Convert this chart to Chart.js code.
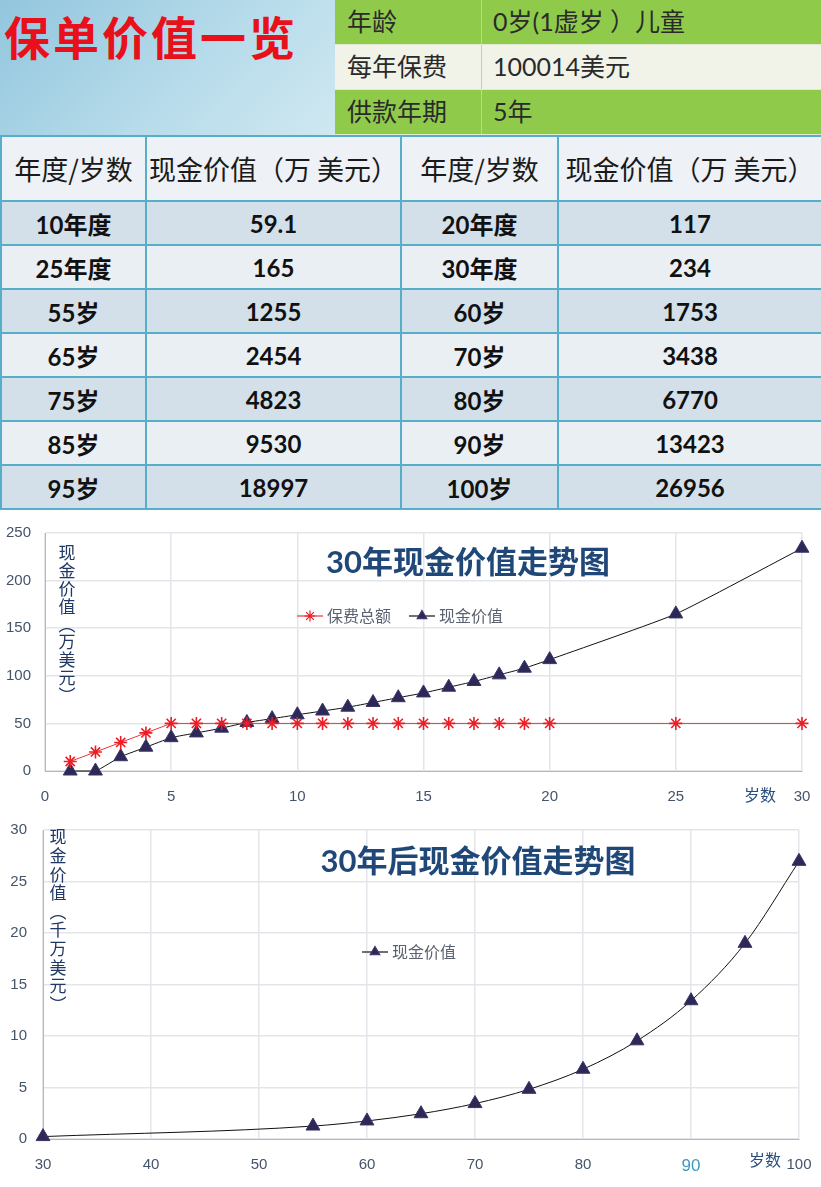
<!DOCTYPE html>
<html>
<head>
<meta charset="utf-8">
<script src="https://cdn.jsdelivr.net/npm/chart.js@4"></script>
<style>
  html, body { margin: 0; padding: 0; background: #fff; }
  body { width: 821px; height: 1187px; position: relative; overflow: hidden;
         font-family: Lato, "Noto Sans CJK SC", sans-serif; }
  #brand { position: absolute; left: 0; top: 0; width: 335px; height: 135px;
           background: linear-gradient(135deg, #92c6de 0%, #b6dbea 55%, #cfe8f1 100%); }
  #brand span { position: absolute; left: 4px; top: 2px; color: #e8101a; font-size: 46px;
                font-weight: 700; font-family: "Noto Sans CJK SC", sans-serif; letter-spacing: 3px; }
  .info { position: absolute; left: 335px; width: 486px; height: 44px; background: #8fca4a;
          border-bottom: 1px solid #dfe9cf; font-family: "Noto Sans CJK SC", sans-serif;
          font-size: 25px; color: #2a2a2a; }
  .info.light { background: #f1f2e8; }
  .info .k { position: absolute; left: 12px; top: 2px; }
  .info .v { position: absolute; left: 158px; top: 2px; font-family: Lato, "Noto Sans CJK SC", sans-serif; }
  .info .sep { position: absolute; left: 146px; top: 0; width: 1px; height: 44px; background: #b8d99a; }
  table { position: absolute; left: 0; top: 135px; width: 821px; border-collapse: collapse;
          table-layout: fixed; }
  td { border: 2px solid #57aecb; text-align: center; padding: 0; color: #111; }
  tr.h td { height: 63px; background: #eef1f5; font-size: 27px; font-weight: 400;
            font-family: "Noto Sans CJK SC", sans-serif; color: #1a1a1a; white-space: nowrap; }
  tr.d td { height: 42px; font-size: 24px; font-weight: 700; }
  tr.dark td { background: #d3e0ea; }
  tr.lite td { background: #eaeff4; }
  .chart { position: absolute; left: 0; width: 821px; }
</style>
</head>
<body>
<div id="brand"><span>保单价值一览</span></div>
<div class="info" style="top:0"><span class="k">年龄</span><span class="sep"></span><span class="v">0岁(1虚岁 ）儿童</span></div>
<div class="info light" style="top:45px"><span class="k">每年保费</span><span class="sep"></span><span class="v">100014美元</span></div>
<div class="info" style="top:90px"><span class="k">供款年期</span><span class="sep"></span><span class="v">5年</span></div>

<table id="tbl">
  <colgroup><col style="width:145px"><col style="width:255px"><col style="width:157px"><col style="width:264px"></colgroup>
  <tbody id="tbody">
    <tr class="h"><td>年度/岁数</td><td>现金价值（万 美元）</td><td>年度/岁数</td><td>现金价值（万 美元）</td></tr>
  </tbody>
</table>

<div class="chart" style="top:510px;height:298px"><canvas id="c1"></canvas></div>
<div class="chart" style="top:805px;height:382px"><canvas id="c2"></canvas></div>

<script>
// table values
const leftLabels = ["10年度", "25年度", "55岁", "65岁", "75岁", "85岁", "95岁"]
const leftValues = ["59.1", "165", "1255", "2454", "4823", "9530", "18997"]
const rightLabels = ["20年度", "30年度", "60岁", "70岁", "80岁", "90岁", "100岁"]
const rightValues = ["117", "234", "1753", "3438", "6770", "13423", "26956"]

// chart 1: first 30 years (万美元)
const years1 = [1, 2, 3, 4, 5, 6, 7, 8, 9, 10, 11, 12, 13, 14, 15, 16, 17, 18, 19, 20, 25, 30]
const premiumTotal = [10, 20, 30, 40, 50, 50, 50, 50, 50, 50, 50, 50, 50, 50, 50, 50, 50, 50, 50, 50, 50, 50]
const cashValue1 = [0, 0, 15, 25, 35, 40, 45, 51, 55, 59.1, 63, 67, 72, 77, 82, 88, 94, 101, 108, 117, 165, 234]

// chart 2: after 30 years (千万美元)
const ages2 = [30, 55, 60, 65, 70, 75, 80, 85, 90, 95, 100]
const cashValue2 = [0.234, 1.255, 1.753, 2.454, 3.438, 4.823, 6.770, 9.530, 13.423, 18.997, 26.956]

const tbody = document.getElementById("tbody")
leftLabels.forEach((lab, i) => {
    const tr = document.createElement("tr")
    tr.className = "d " + (i % 2 == 0 ? "dark" : "lite")
    ;[lab, leftValues[i], rightLabels[i], rightValues[i]].forEach(t => {
        const td = document.createElement("td")
        td.textContent = t
        tr.appendChild(td)
    })
    tbody.appendChild(tr)
})

const toPoints = (xs, ys) => xs.map((x, i) => ({ x: x, y: ys[i] }))

const tickColor = '#44546a'
const gridColor = '#e4e5ea'
const cjk = '"Noto Sans CJK SC", sans-serif'

// draws title, legend, axis titles inside the plot like the original sheet
const overlay = {
    id: 'overlay',
    afterDraw(chart, args, opts) {
        const ctx = chart.ctx
        ctx.save()
        ctx.textBaseline = 'middle'

        ctx.fillStyle = '#1f4777'
        ctx.font = 'bold ' + opts.title.size + 'px Lato, ' + cjk
        ctx.textAlign = 'center'
        ctx.fillText(opts.title.text, opts.title.x, opts.title.y)

        // legend
        let lx = opts.legend.x
        const ly = opts.legend.y
        chart.data.datasets.forEach(ds => {
            ctx.strokeStyle = ds.borderColor
            ctx.lineWidth = 1.2
            ctx.beginPath()
            ctx.moveTo(lx, ly)
            ctx.lineTo(lx + 26, ly)
            ctx.stroke()
            ctx.fillStyle = ds.pointBackgroundColor
            ctx.strokeStyle = ds.pointBorderColor
            Chart.helpers.drawPoint(ctx, {
                pointStyle: ds.pointStyle, radius: 5.5, borderWidth: ds.pointBorderWidth
            }, lx + 13, ly)
            ctx.fillStyle = '#5a6270'
            ctx.font = '16px ' + cjk
            ctx.textAlign = 'left'
            ctx.fillText(ds.label, lx + 30, ly)
            lx += 30 + ctx.measureText(ds.label).width + opts.legend.gap
        })

        // vertical y-axis title
        ctx.fillStyle = '#1f3864'
        ctx.font = opts.yTitle.size + 'px ' + cjk
        ctx.textAlign = 'center'
        Array.from(opts.yTitle.text).forEach((ch, i) => {
            ctx.fillText(ch, opts.yTitle.x, opts.yTitle.y + i * opts.yTitle.step)
        })

        // x-axis title
        ctx.fillStyle = '#2a4d7a'
        ctx.font = '16px ' + cjk
        ctx.fillText('岁数', opts.xTitle.x, opts.xTitle.y)
        ctx.restore()
    }
}

const triangleStyle = {
    borderColor: '#111111',
    borderWidth: 1,
    pointStyle: 'triangle',
    pointRadius: 8,
    pointHoverRadius: 8,
    pointBackgroundColor: '#2c2858',
    pointBorderColor: '#3a3566',
    pointBorderWidth: 1,
    clip: false
}

const noSidePad = s => { s.paddingLeft = 0; s.paddingRight = 0 }

new Chart(document.getElementById("c1"), {
    type: 'line',
    data: {
        datasets: [{
            label: '保费总额',
            data: toPoints(years1, premiumTotal),
            borderColor: '#e8373a',
            borderWidth: 1,
            pointStyle: 'star',
            pointRadius: 6.5,
            pointBackgroundColor: '#ee1c24',
            pointBorderColor: '#ee1c24',
            pointBorderWidth: 1.6,
            clip: false
        }, Object.assign({
            label: '现金价值',
            data: toPoints(years1, cashValue1),
            tension: 0.15
        }, triangleStyle)]
    },
    options: {
        responsive: true,
        maintainAspectRatio: false,
        animation: false,
        layout: { padding: { top: 21, right: 19, left: 0, bottom: 0 } },
        plugins: {
            legend: { display: false },
            tooltip: { enabled: false },
            overlay: {
                title: { text: '30年现金价值走势图', x: 468, y: 53, size: 31 },
                legend: { x: 297, y: 106, gap: 18 },
                yTitle: { text: '现金价值︵万美元︶', x: 67, y: 43, step: 17.8, size: 17 },
                xTitle: { x: 760, y: 285 }
            }
        },
        scales: {
            x: {
                type: 'linear', min: 0, max: 30,
                afterFit: s => { s.height = 37; noSidePad(s) },
                ticks: { stepSize: 5, padding: 17, color: tickColor, font: { size: 15 } },
                grid: { color: gridColor, lineWidth: 1.5, drawTicks: false },
                border: { color: '#b5b7bd' }
            },
            y: {
                min: 0, max: 250,
                afterFit: s => { s.width = 45 },
                ticks: { stepSize: 50, padding: 14, color: tickColor, font: { size: 15 } },
                grid: { color: gridColor, lineWidth: 1.5, drawTicks: false },
                border: { color: '#b5b7bd' }
            }
        }
    },
    plugins: [overlay]
})

new Chart(document.getElementById("c2"), {
    type: 'line',
    data: {
        datasets: [Object.assign({
            label: '现金价值',
            data: toPoints(ages2, cashValue2),
            cubicInterpolationMode: 'monotone'
        }, triangleStyle)]
    },
    options: {
        responsive: true,
        maintainAspectRatio: false,
        animation: false,
        layout: { padding: { top: 13, right: 22, left: 0, bottom: 0 } },
        plugins: {
            legend: { display: false },
            tooltip: { enabled: false },
            overlay: {
                title: { text: '30年后现金价值走势图', x: 478, y: 57, size: 31 },
                legend: { x: 362, y: 147, gap: 18 },
                yTitle: { text: '现金价值︵千万美元︶', x: 58, y: 32, step: 18.6, size: 17 },
                xTitle: { x: 765, y: 355 }
            }
        },
        scales: {
            x: {
                type: 'linear', min: 30, max: 100,
                afterFit: s => { s.height = 48; noSidePad(s) },
                ticks: {
                    stepSize: 10, padding: 17,
                    color: c => c.tick && c.tick.value == 90 ? '#3c9cbc' : tickColor,
                    font: c => ({ size: c.tick && c.tick.value == 90 ? 17 : 15 })
                },
                grid: { color: gridColor, lineWidth: 1.5, drawTicks: false },
                border: { color: '#b5b7bd' }
            },
            y: {
                min: 0, max: 30,
                afterFit: s => { s.width = 43 },
                ticks: { stepSize: 5, padding: 16, color: tickColor, font: { size: 15 } },
                grid: { color: gridColor, lineWidth: 1.5, drawTicks: false },
                border: { color: '#b5b7bd' }
            }
        }
    },
    plugins: [overlay]
})
</script>
</body>
</html>
